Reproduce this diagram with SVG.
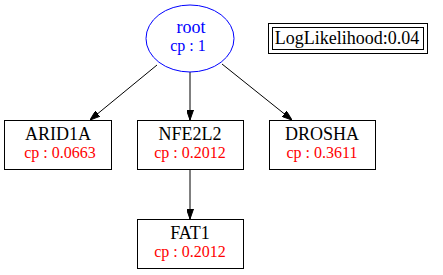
<svg xmlns="http://www.w3.org/2000/svg" width="443" height="275" viewBox="0 0 443 275">
  <style>
    .box { fill: #ffffff; stroke: #000000; stroke-width: 1; }
    .name { font-family: "Liberation Serif", "Times New Roman", serif; font-size: 18px; fill: #000000; text-anchor: middle; }
    .cp { font-family: "Liberation Serif", "Times New Roman", serif; font-size: 16px; fill: #ff0000; text-anchor: middle; }
    .rootlbl { fill: #0000ff; }
    .edge { stroke: #000000; stroke-width: 1; fill: none; }
  </style>
  <defs>
    <marker id="arrow" viewBox="0 0 10 7" refX="10" refY="3.5" markerWidth="10" markerHeight="7" markerUnits="userSpaceOnUse" orient="auto">
      <path d="M0,0 L10,3.5 L0,7 Z" fill="#000000" stroke="#000000"/>
    </marker>
  </defs>
  <rect width="443" height="275" fill="#ffffff"/>

  <!-- connectors -->
  <g id="edges">
    <path class="edge" d="M157,65 L90,120" marker-end="url(#arrow)"/>
    <path class="edge" d="M190,72 L190,120" marker-end="url(#arrow)"/>
    <path class="edge" d="M222,64 L292,120" marker-end="url(#arrow)"/>
    <path class="edge" d="M190,169 L190,219" marker-end="url(#arrow)"/>
  </g>

  <g id="root">
    <ellipse cx="190" cy="38.5" rx="44" ry="33.5" fill="#ffffff" stroke="#0000ff"/>
    <text x="191" y="33" class="name rootlbl">root</text>
    <text x="188" y="50.5" class="cp rootlbl">cp : 1</text>
  </g>

  <g id="loglikelihood">
    <rect x="268.5" y="23.5" width="159" height="30" fill="none" stroke="#000000"/>
    <rect x="272.5" y="27.5" width="151" height="22" fill="none" stroke="#000000"/>
    <text x="347" y="44" class="name">LogLikelihood:0.04</text>
  </g>

  <g id="ARID1A">
    <rect class="box" x="4.5" y="120.5" width="107" height="49"/>
    <text x="58" y="140" class="name">ARID1A</text>
    <text x="60" y="158" class="cp">cp : 0.0663</text>
  </g>

  <g id="NFE2L2">
    <rect class="box" x="137.5" y="120.5" width="106" height="49"/>
    <text x="190" y="140" class="name">NFE2L2</text>
    <text x="190" y="158" class="cp">cp : 0.2012</text>
  </g>

  <g id="DROSHA">
    <rect class="box" x="269.5" y="120.5" width="106" height="49"/>
    <text x="322" y="140" class="name">DROSHA</text>
    <text x="322" y="158" class="cp">cp : 0.3611</text>
  </g>

  <g id="FAT1">
    <rect class="box" x="137.5" y="219.5" width="106" height="49"/>
    <text x="190" y="239" class="name">FAT1</text>
    <text x="190" y="257" class="cp">cp : 0.2012</text>
  </g>
</svg>
